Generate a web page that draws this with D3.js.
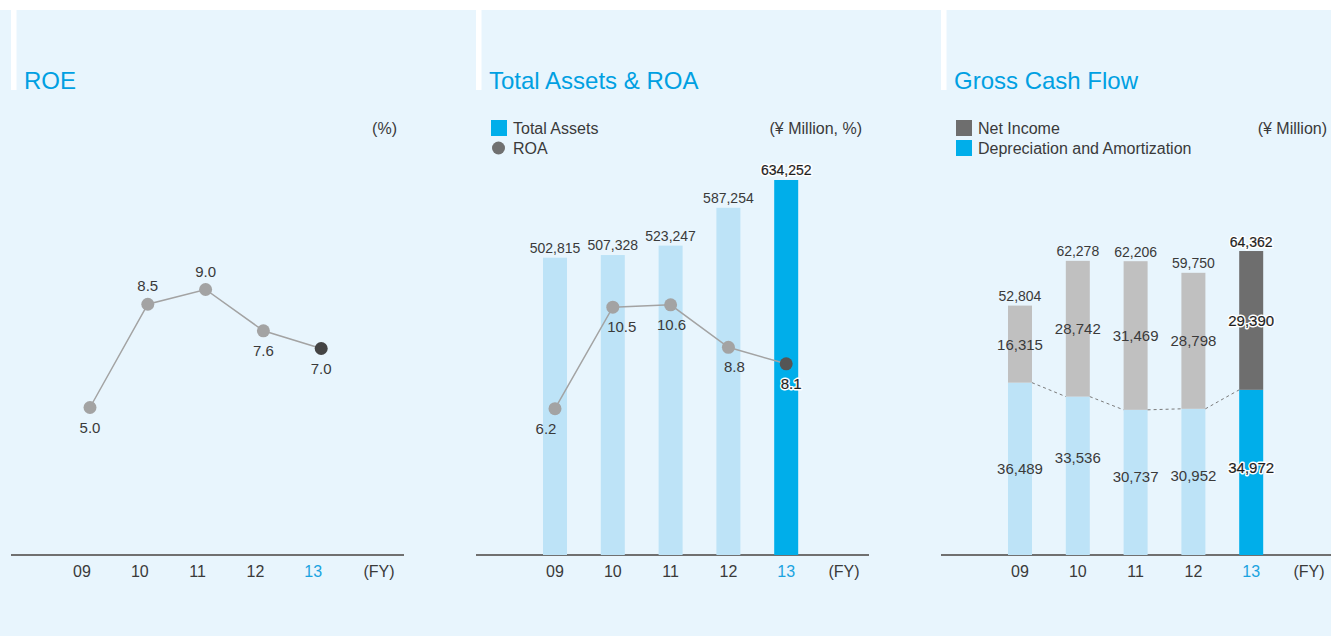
<!DOCTYPE html>
<html><head><meta charset="utf-8">
<script src="https://cdn.jsdelivr.net/npm/d3@7"></script>
<style>
html,body{margin:0;padding:0;background:#fff;}
svg{display:block;font-family:"Liberation Sans",Arial,Helvetica,sans-serif;}
</style></head><body>
<svg id="c" width="1331" height="636"></svg>
<script>
// Fiscal years and figures
const years = ["09", "10", "11", "12", "13"];
const axisCats = ["09", "10", "11", "12", "13", "(FY)"];
const roe = [5.0, 8.5, 9.0, 7.6, 7.0];
const totalAssets = [502815, 507328, 523247, 587254, 634252];
const roa = [6.2, 10.5, 10.6, 8.8, 8.1];
const netIncome = [16315, 28742, 31469, 28798, 29390];
const depreciation = [36489, 33536, 30737, 30952, 34972];
const grossCashFlow = [52804, 62278, 62206, 59750, 64362];

// label placement tweaks
const roeLabelSide = ["below", "above", "above", "below", "below"];
const roaLabelDx = [-9, 9, 1, 6, 5];
const depLabelDy = [0, -18, -6, -6, -5];

const C = {
  bg: "#e8f5fd", title: "#00a0e2", text: "#3a3a3a", axis: "#707070",
  lightBar: "#bde3f7", cyan: "#00aeea", grayBar: "#c0c0c0", darkBar: "#6e6e6e",
  dot: "#a3a3a3", dotLast: "#444", line: "#a3a3a3", tick13: "#1aa3e0"
};

const svg = d3.select("#c");
const W = 1331, H = 636, AXIS_Y = 555, PANEL_STEP = 465, PANEL_X0 = 11;
const fmt = d3.format(",");
const fmt1 = d3.format(".1f");

svg.append("rect").attr("x", 0).attr("y", 10).attr("width", W).attr("height", H - 10).attr("fill", C.bg);

const titles = ["ROE", "Total Assets & ROA", "Gross Cash Flow"];
const units = ["(%)", "(¥ Million, %)", "(¥ Million)"];

function panelX(o) {
  return d3.scaleBand().domain(axisCats).range([o + 50.1, o + 50.1 + 6 * 57.8]).padding(0);
}
const cx = (x, d) => x(d) + x.bandwidth() / 2;

titles.forEach((t, k) => {
  const o = PANEL_X0 + PANEL_STEP * k;
  // header separator strip
  svg.append("rect").attr("x", o).attr("y", 10).attr("width", 5.5).attr("height", 80).attr("fill", "#fff");
  svg.append("text").attr("x", o + 13).attr("y", 89).attr("fill", C.title)
    .attr("font-size", 24).text(t);
  svg.append("text").attr("x", o + 386).attr("y", 133.5).attr("text-anchor", "end")
    .attr("fill", C.text).attr("font-size", 16).text(units[k]);
  // baseline
  svg.append("line").attr("x1", o).attr("x2", Math.min(o + 393, W)).attr("y1", AXIS_Y).attr("y2", AXIS_Y)
    .attr("stroke", C.axis).attr("stroke-width", 2);
  // category labels (year labels sit a little left in the ROE panel)
  const x = panelX(o);
  const ax = svg.append("g").attr("transform", `translate(0,${AXIS_Y})`)
    .call(d3.axisBottom(x).tickSize(0).tickPadding(0));
  ax.select(".domain").remove();
  ax.selectAll(".tick").filter(d => k === 0 && d !== "(FY)")
    .attr("transform", d => `translate(${cx(x, d) - 8},0)`);
  ax.selectAll("text").attr("y", 22).attr("dy", 0).attr("font-size", 16)
    .attr("font-family", "'Liberation Sans',Arial,sans-serif")
    .attr("fill", d => d === "13" ? C.tick13 : C.text);
});

// emphasised value text (last fiscal year)
function strongText(g, x, y, str, size) {
  g.append("text").attr("x", x).attr("y", y).attr("text-anchor", "middle").attr("font-size", size)
    .attr("fill", "#fff").attr("stroke", "#fff").attr("stroke-width", 3).attr("stroke-linejoin", "round").text(str);
  g.append("text").attr("x", x).attr("y", y).attr("text-anchor", "middle").attr("font-size", size)
    .attr("fill", "#1e1e1e").attr("stroke", "#1e1e1e").attr("stroke-width", 0.2).text(str);
}

// ---------- ROE ----------
{
  const o = PANEL_X0;
  const x = panelX(o);
  const y = d3.scaleLinear().domain([0, 10]).range([AXIS_Y, 260]);
  const g = svg.append("g");
  const pts = years.map((yr, i) => [cx(x, yr), y(roe[i])]);
  g.append("path").attr("d", d3.line()(pts)).attr("fill", "none").attr("stroke", C.line).attr("stroke-width", 1.5);
  g.selectAll("circle").data(roe).join("circle")
    .attr("cx", (d, i) => pts[i][0]).attr("cy", (d, i) => pts[i][1]).attr("r", 6.5)
    .attr("fill", (d, i) => i === 4 ? C.dotLast : C.dot);
  g.selectAll("text.v").data(roe).join("text").attr("class", "v")
    .attr("x", (d, i) => pts[i][0]).attr("y", (d, i) => pts[i][1] + (roeLabelSide[i] === "above" ? -13 : 25.5))
    .attr("text-anchor", "middle").attr("font-size", 15).attr("fill", C.text).text(d => fmt1(d));
}

// ---------- Total Assets & ROA ----------
{
  const o = PANEL_X0 + PANEL_STEP;
  const x = panelX(o);
  const yA = d3.scaleLinear().domain([0, 700000]).range([AXIS_Y, AXIS_Y - 700000 * 0.00059125]);
  const yR = d3.scaleLinear().domain([0, 10]).range([AXIS_Y, AXIS_Y - 236]);
  const g = svg.append("g");
  const bw = 24;
  // legend
  g.append("rect").attr("x", o + 15).attr("y", 120).attr("width", 16).attr("height", 16).attr("fill", C.cyan);
  g.append("text").attr("x", o + 37).attr("y", 133.5).attr("font-size", 16).attr("fill", C.text).text("Total Assets");
  g.append("circle").attr("cx", o + 22.5).attr("cy", 148).attr("r", 6.5).attr("fill", "#707070");
  g.append("text").attr("x", o + 37).attr("y", 153.5).attr("font-size", 16).attr("fill", C.text).text("ROA");

  g.selectAll("rect.bar").data(totalAssets).join("rect").attr("class", "bar")
    .attr("x", (d, i) => cx(x, years[i]) - bw / 2).attr("width", bw)
    .attr("y", d => yA(d)).attr("height", d => AXIS_Y - yA(d))
    .attr("fill", (d, i) => i === 4 ? C.cyan : C.lightBar);
  totalAssets.forEach((d, i) => {
    const tx = cx(x, years[i]), ty = yA(d) - 5;
    if (i === 4) strongText(g, tx, ty, fmt(d), 14);
    else g.append("text").attr("x", tx).attr("y", ty).attr("text-anchor", "middle")
      .attr("font-size", 14).attr("fill", C.text).text(fmt(d));
  });

  const pts = years.map((yr, i) => [cx(x, yr), yR(roa[i])]);
  g.append("path").attr("d", d3.line()(pts)).attr("fill", "none").attr("stroke", C.line).attr("stroke-width", 1.5);
  g.selectAll("circle.p").data(roa).join("circle").attr("class", "p")
    .attr("cx", (d, i) => pts[i][0]).attr("cy", (d, i) => pts[i][1]).attr("r", 6.5)
    .attr("fill", (d, i) => i === 4 ? "#555" : C.dot);
  roa.forEach((d, i) => {
    const tx = pts[i][0] + roaLabelDx[i], ty = pts[i][1] + 25;
    if (i === 4) strongText(g, tx, ty, fmt1(d), 15);
    else g.append("text").attr("x", tx).attr("y", ty).attr("text-anchor", "middle")
      .attr("font-size", 15).attr("fill", C.text).text(fmt1(d));
  });
}

// ---------- Gross Cash Flow ----------
{
  const o = PANEL_X0 + PANEL_STEP * 2;
  const x = panelX(o);
  const y = d3.scaleLinear().domain([0, 70000]).range([AXIS_Y, AXIS_Y - 70000 * 0.004723]);
  const g = svg.append("g");
  const bw = 24;
  // legend
  g.append("rect").attr("x", o + 15).attr("y", 120).attr("width", 16).attr("height", 16).attr("fill", C.darkBar);
  g.append("text").attr("x", o + 37).attr("y", 133.5).attr("font-size", 16).attr("fill", C.text).text("Net Income");
  g.append("rect").attr("x", o + 15).attr("y", 140).attr("width", 16).attr("height", 16).attr("fill", C.cyan);
  g.append("text").attr("x", o + 37).attr("y", 153.5).attr("font-size", 16).attr("fill", C.text).text("Depreciation and Amortization");

  const rows = years.map((yr, i) => ({ yr, i, dep: depreciation[i], ni: netIncome[i], total: grossCashFlow[i] }));
  const stack = d3.stack().keys(["dep", "ni"])(rows);
  const fills = {
    dep: i => i === 4 ? C.cyan : C.lightBar,
    ni: i => i === 4 ? C.darkBar : C.grayBar
  };
  stack.forEach(layer => {
    g.selectAll(null).data(layer).join("rect")
      .attr("x", d => cx(x, d.data.yr) - bw / 2).attr("width", bw)
      .attr("y", d => y(d[1])).attr("height", d => y(d[0]) - y(d[1]))
      .attr("fill", d => fills[layer.key](d.data.i));
  });

  // dashed connector across depreciation tops
  const depLayer = stack[0];
  for (let i = 0; i < depLayer.length - 1; i++) {
    const a = depLayer[i], b = depLayer[i + 1];
    g.append("line")
      .attr("x1", cx(x, a.data.yr) + bw / 2).attr("y1", y(a[1]))
      .attr("x2", cx(x, b.data.yr) - bw / 2).attr("y2", y(b[1]))
      .attr("stroke", "#7a7a7a").attr("stroke-width", 1).attr("stroke-dasharray", "3,3");
  }

  rows.forEach(r => {
    const tx = cx(x, r.yr);
    const depMid = (y(0) + y(r.dep)) / 2 + depLabelDy[r.i] + 5.5;
    const niMid = (y(r.dep) + y(r.total)) / 2 + 5.5;
    const totY = y(r.total) - 4.5;
    if (r.i === 4) {
      strongText(g, tx, totY, fmt(r.total), 14);
      strongText(g, tx, niMid, fmt(r.ni), 15);
      strongText(g, tx, depMid, fmt(r.dep), 15);
    } else {
      g.append("text").attr("x", tx).attr("y", totY).attr("text-anchor", "middle").attr("font-size", 14).attr("fill", C.text).text(fmt(r.total));
      g.append("text").attr("x", tx).attr("y", niMid).attr("text-anchor", "middle").attr("font-size", 15).attr("fill", C.text).text(fmt(r.ni));
      g.append("text").attr("x", tx).attr("y", depMid).attr("text-anchor", "middle").attr("font-size", 15).attr("fill", C.text).text(fmt(r.dep));
    }
  });
}
</script>
</body></html>
